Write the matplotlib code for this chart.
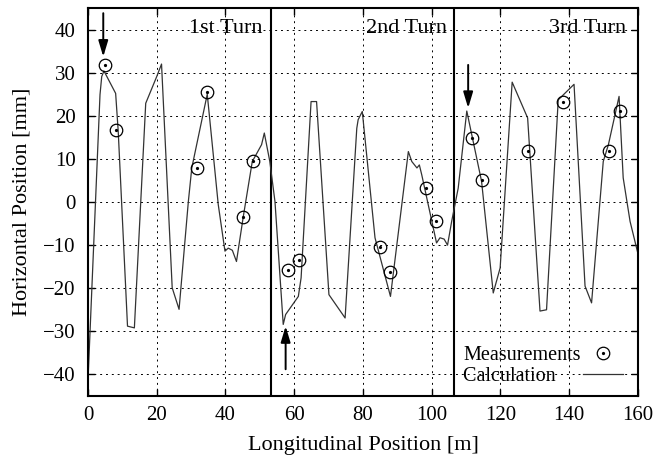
import numpy as np
import matplotlib
matplotlib.use('Agg')
import matplotlib.pyplot as plt
from matplotlib.legend_handler import HandlerTuple

plt.rcParams['font.family'] = ['Liberation Serif', 'DejaVu Serif']
plt.rcParams['font.size'] = 16

# calculated horizontal orbit [m, mm]
calc_x = [0.1, 3.5, 4.0, 4.65, 8.05, 8.8, 11.5, 13.5, 16.8, 20.0, 21.4, 24.5, 26.5,
          29.2, 30.2, 34.7, 37.9, 39.85, 40.8, 42.0, 43.2, 45.2, 47.8, 49.4, 50.5,
          51.3, 52.9, 54.4, 56.8, 57.5, 61.2, 62.0, 64.9, 66.5, 70.1, 74.8, 78.2,
          78.6, 79.8, 83.5, 88.0, 93.2, 94.2, 95.7, 96.4, 97.1, 101.4, 102.4, 103.6,
          104.6, 105.8, 107.7, 110.2, 114.5, 117.9, 119.9, 123.4, 127.9, 131.5,
          133.4, 136.8, 141.4, 144.6, 146.5, 149.9, 151.4, 154.5, 155.7, 157.7,
          159.6, 160.0]
calc_y = [-39.6, 24.9, 29.1, 30.4, 25.2, 16.4, -28.8, -29.2, 22.9, 29.1, 32.0, -19.9, -24.9,
          0.1, 7.9, 25.0, -0.6, -11.4, -10.7, -11.2, -13.8, -3.3, 9.4, 11.7, 13.3,
          16.0, 9.4, 0.1, -28.4, -26.1, -21.9, -17.6, 23.3, 23.3, -21.5, -26.9, 17.1,
          19.1, 21.0, -8.3, -21.9, 11.7, 9.4, 7.9, 8.6, 6.3, -9.5, -8.3, -8.6,
          -10.0, -4.5, 3.2, 21.1, 4.8, -21.1, -15.3, 27.8, 19.5, -25.3,
          -25.0, 23.7, 27.3, -19.5, -23.4, 9.4, 13.3, 24.5, 5.6, -4.5,
          -10.7, -12.0]

# measured positions
meas_x = [4.9, 8.1, 31.6, 34.7, 45.0, 48.1, 58.3, 61.4, 84.9, 88.0, 98.2, 101.2,
          111.8, 114.7, 128.1, 138.3, 151.7, 154.8]
meas_y = [31.8, 16.7, 8.0, 25.5, -3.5, 9.4, -15.7, -13.4, -10.4, -16.3, 3.2, -4.5,
          14.8, 5.2, 11.9, 23.2, 11.9, 21.0]

turn_x = [53.2, 106.4]
turn_labels = ['1st Turn', '2nd Turn', '3rd Turn']
turn_label_x = [50.8, 104.4, 156.6]

# arrows (x, tail y, tip y)
arrow_x = [4.45, 57.5, 110.6]
arrow_y0 = [43.8, -38.8, 31.8]
arrow_y1 = [33.7, -28.8, 21.8]

fig = plt.figure(figsize=(6.7, 4.58), dpi=100)
ax = fig.add_axes([0.1313, 0.1354, 0.8209, 0.8471])

ax.grid(True, color='black', linestyle=(0, (2, 4)), linewidth=0.7)
ax.set_axisbelow(True)

for t in turn_x:
    ax.axvline(t, color='black', linewidth=1.5)

line, = ax.plot(calc_x, calc_y, color='#333333', linewidth=0.9)
circ, = ax.plot(meas_x, meas_y, linestyle='none', marker='o', markersize=9,
                markerfacecolor='none', markeredgecolor='black', markeredgewidth=0.9)
dot, = ax.plot(meas_x, meas_y, linestyle='none', marker='o', markersize=1.3,
               color='black')

for xa, ya0, ya1 in zip(arrow_x, arrow_y0, arrow_y1):
    ax.annotate('', xy=(xa, ya1), xytext=(xa, ya0),
                arrowprops=dict(arrowstyle='-|>,head_length=0.6,head_width=0.18',
                                color='black', linewidth=1.4, shrinkA=0, shrinkB=0))

for lab, lx in zip(turn_labels, turn_label_x):
    ax.text(lx, 40.3, lab, ha='right', va='center', fontsize=16)

ax.set_xlim(0, 160)
ax.set_ylim(-45, 45)
ax.set_xticks(np.arange(0, 161, 20))
ax.set_yticks(np.arange(-40, 41, 10))
ax.tick_params(direction='in', top=True, right=True, length=5, width=1, labelsize=15)
ax.tick_params(axis='y', pad=9)
ax.tick_params(axis='x', pad=7)
for s in ax.spines.values():
    s.set_linewidth(1.5)

ax.set_xlabel('Longitudinal Position [m]', labelpad=8, fontsize=16)
ax.set_ylabel('Horizontal Position [mm]', labelpad=8, fontsize=16)

ax.legend([(circ, dot), line], ['Measurements', 'Calculation     '],
          handler_map={tuple: HandlerTuple(ndivide=1)},
          markerfirst=False, frameon=False, loc='lower right', fontsize=14.5,
          handlelength=2.0, handletextpad=0.1, labelspacing=0.1,
          borderpad=0, borderaxespad=0, bbox_to_anchor=(0.9727, 0.026))

fig.savefig('out.png', dpi=100)
